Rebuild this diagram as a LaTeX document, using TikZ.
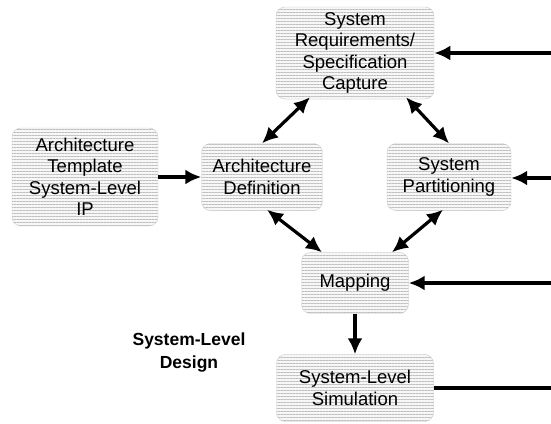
\documentclass[tikz,border=0pt]{standalone}
\usepackage{fontspec}
\setmainfont{Liberation Sans}
\usetikzlibrary{arrows.meta,patterns.meta}

\begin{document}
\begin{tikzpicture}[x=1pt, y=-1pt, >={Latex[length=16pt,width=15pt]},
	every node/.style={font=\fontsize{18.5}{21.5}\selectfont, align=center},
	blk/.style={draw=gray!40, rounded corners=9pt, inner sep=0pt, preaction={fill=gray!6}, pattern={Lines[angle=0,distance=3pt,line width=0.5pt]}, pattern color=gray!50},
	flow/.style={line width=3.2pt}]
	\useasboundingbox (0,0) rectangle (551,423);
	\node[blk, minimum width=158pt, minimum height=92pt] (req) at (355,53) {System\\Requirements/\\Specification\\Capture};
	\node[blk, minimum width=146pt, minimum height=98pt] (tmpl) at (85,177) {Architecture\\Template\\System-Level\\IP};
	\node[blk, minimum width=121pt, minimum height=67pt] (arch) at (262,177) {Architecture\\Definition};
	\node[blk, minimum width=124pt, minimum height=67pt] (part) at (449,177) {System\\Partitioning};
	\node[blk, minimum width=107pt, minimum height=61pt] (map) at (355,283) {Mapping};
	\node[blk, minimum width=157pt, minimum height=67pt] (sim) at (355,388) {System-Level\\Simulation};
	\node[font=\fontsize{17.5}{23}\selectfont\bfseries] (title) at (189,353) {System-Level\\Design};
	% feeds from the right edge
	\coordinate (inReq) at (551,53);
	\coordinate (inPart) at (551,178);
	\coordinate (inMap) at (551,283);
	\coordinate (outSim) at (551,388);
	\draw[flow, ->] (inReq) -- (req.east |- inReq);
	\draw[flow, ->] (inPart) -- (part.east |- inPart);
	\draw[flow, ->] (inMap) -- (map.east |- inMap);
	\draw[flow] (sim.east |- outSim) -- (outSim);
	% inner flow
	\draw[flow, ->] (tmpl) -- (arch);
	\draw[flow, <->] ([xshift=-45pt,yshift=2pt]req.south) -- (arch.north);
	\draw[flow, <->] ([xshift=51pt,yshift=2pt]req.south) -- (part.north);
	\draw[flow, <->] ([xshift=5pt,yshift=1pt]arch.south) -- ([xshift=-33pt]map.north);
	\draw[flow, <->] ([xshift=-6pt,yshift=1pt]part.south) -- ([xshift=37pt]map.north);
	\draw[flow, ->] (map) -- (sim);
\end{tikzpicture}
\end{document}
